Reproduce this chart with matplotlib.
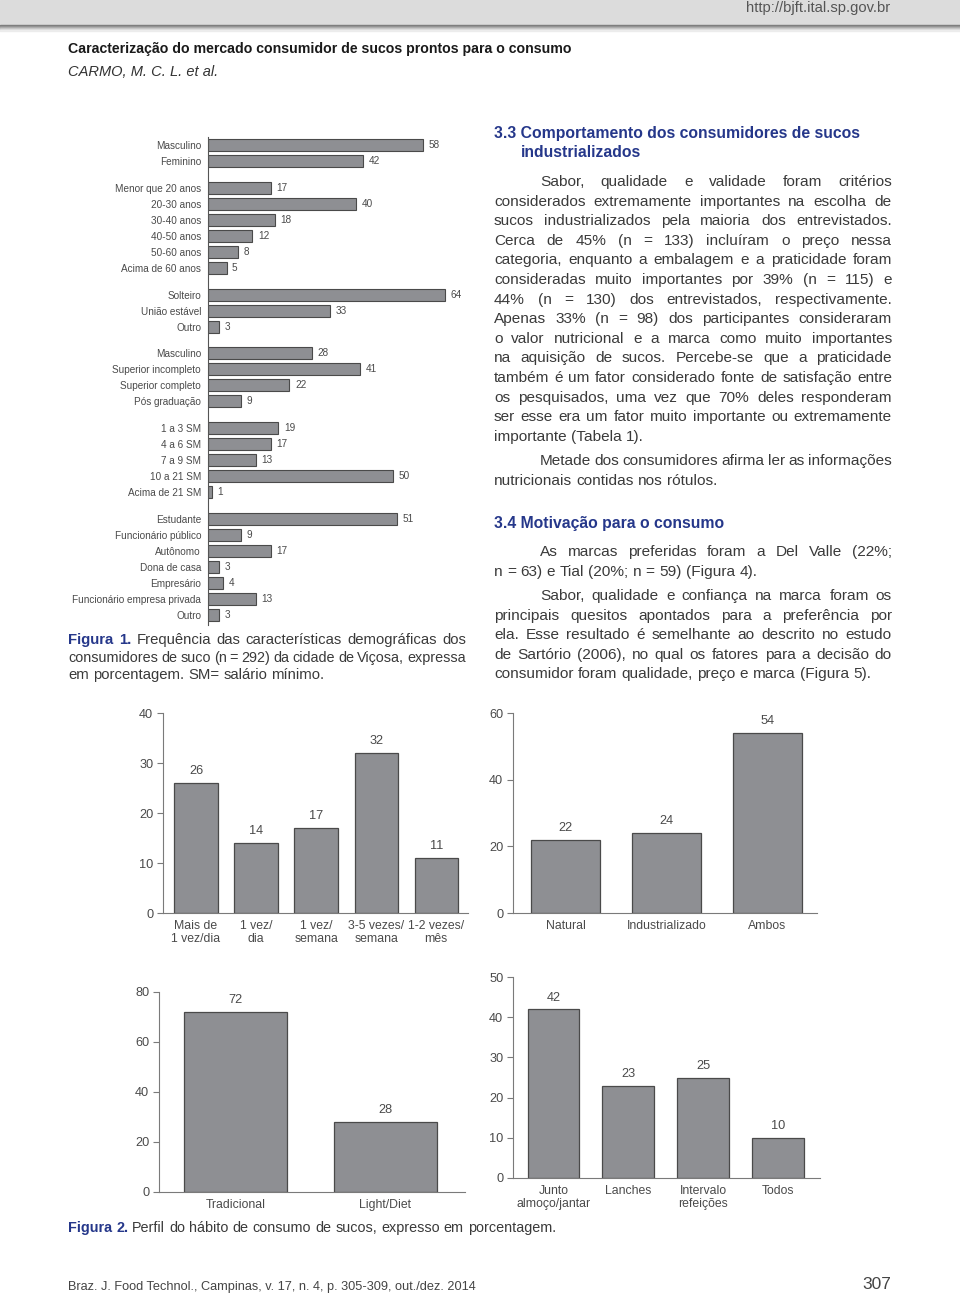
import matplotlib
matplotlib.use('Agg')
import matplotlib.pyplot as plt
from matplotlib import font_manager
from matplotlib.patches import Rectangle

W, H = 960, 1294

# --- Figura 1 data (demographics, %) ---
sex_labels = ['Masculino', 'Feminino']
sex_values = [58, 42]
age_labels = ['Menor que 20 anos', '20-30 anos', '30-40 anos', '40-50 anos',
              '50-60 anos', 'Acima de 60 anos']
age_values = [17, 40, 18, 12, 8, 5]
civil_labels = ['Solteiro', 'União estável', 'Outro']
civil_values = [64, 33, 3]
edu_labels = ['Masculino', 'Superior incompleto', 'Superior completo', 'Pós graduação']
edu_values = [28, 41, 22, 9]
income_labels = ['1 a 3 SM', '4 a 6 SM', '7 a 9 SM', '10 a 21 SM', 'Acima de 21 SM']
income_values = [19, 17, 13, 50, 1]
job_labels = ['Estudante', 'Funcionário público', 'Autônomo', 'Dona de casa',
              'Empresário', 'Funcionário empresa privada', 'Outro']
job_values = [51, 9, 17, 3, 4, 13, 3]

# --- Figura 2 data (%) ---
freq_labels = ['Mais de\n1 vez/dia', '1 vez/\ndia', '1 vez/\nsemana',
               '3-5 vezes/\nsemana', '1-2 vezes/\nmês']
freq_values = [26, 14, 17, 32, 11]
type_labels = ['Natural', 'Industrializado', 'Ambos']
type_values = [22, 24, 54]
diet_labels = ['Tradicional', 'Light/Diet']
diet_values = [72, 28]
moment_labels = ['Junto\nalmoço/jantar', 'Lanches', 'Intervalo\nrefeições', 'Todos']
moment_values = [42, 23, 25, 10]

BAR = '#8e8f93'
EDGE = '#4a4a4a'
SPINE = '#7a7a7a'
TXT = '#4a4a4a'
BODY = '#3a3a3a'
BLUE = '#25378a'

names = {f.name for f in font_manager.fontManager.ttflist}
SANS = 'Liberation Sans'
NARROW = 'Liberation Sans Narrow' if 'Liberation Sans Narrow' in names else SANS
plt.rcParams['font.family'] = [SANS, 'DejaVu Sans']

fig = plt.figure(figsize=(W / 100, H / 100), dpi=100)
renderer = fig.canvas.get_renderer()


def box(x0, y0, x1, y1):
    # pixel box (y from top) -> figure fraction rect
    return [x0 / W, 1 - y1 / H, (x1 - x0) / W, (y1 - y0) / H]


def draw_line(tokens, x0, x1, yb, justify=True, size=10):
    objs = [fig.text(x0 / W, 1 - yb / H, w, va='baseline', ha='left', **st)
            for w, st in tokens]
    widths = [o.get_window_extent(renderer).width for o in objs]
    n = len(objs)
    em = size * 100 / 72
    if justify and n > 1:
        min_gap = 0.22 * em
        if sum(widths) + (n - 1) * min_gap > x1 - x0:
            # squeeze the line a little so words never collide
            k = (x1 - x0 - (n - 1) * min_gap) / sum(widths)
            for o in objs:
                o.set_fontsize(o.get_fontsize() * k)
            widths = [o.get_window_extent(renderer).width for o in objs]
        gap = (x1 - x0 - sum(widths)) / (n - 1)
    else:
        gap = 0.28 * em
    x = x0
    for o, w in zip(objs, widths):
        o.set_x(x / W)
        x += w + gap


def words(s, **st):
    return [(w, st) for w in s.split()]


BODY_SIZE = 11.1


def paragraph(lines, x0, x1, y_first, step, indent=46, size=BODY_SIZE):
    st = dict(fontsize=size, color=BODY, family=SANS)
    for i, s in enumerate(lines):
        last = i == len(lines) - 1
        start = x0 + indent if i == 0 else x0
        draw_line(words(s, **st), start, x1, y_first + i * step,
                  justify=not last, size=size)


# --- page header ---
fig.patches.append(Rectangle((0, 1 - 25 / H), 1, 25 / H, transform=fig.transFigure,
                             color='#dcdcdc', zorder=0))
for i, c in enumerate(['#7a7a7a', '#8f8f8f', '#a8a8a8', '#c2c2c2', '#d9d9d9', '#ececec']):
    fig.patches.append(Rectangle((0, 1 - (26 + i) / H), 1, 1 / H,
                                 transform=fig.transFigure, color=c, zorder=0))
fig.text(890 / W, 1 - 12 / H, 'http://bjft.ital.sp.gov.br', ha='right', va='baseline',
         fontsize=10.6, color='#555555', family=NARROW)
fig.text(68 / W, 1 - 53 / H,
         'Caracterização do mercado consumidor de sucos prontos para o consumo',
         fontsize=10.2, fontweight='bold', color='#1a1a1a', family=NARROW, va='baseline')
fig.text(68 / W, 1 - 76 / H, 'CARMO, M. C. L. et al.', fontsize=10.5, style='italic',
         color='#333333', family=NARROW, va='baseline')

# --- Figura 1: horizontal bars ---
groups = [(sex_labels, sex_values), (age_labels, age_values),
          (civil_labels, civil_values), (edu_labels, edu_values),
          (income_labels, income_values), (job_labels, job_values)]
gap = 0.675
pos, labs, vals = [], [], []
y = 0.0
for gl, gv in groups:
    for l, v in zip(gl, gv):
        pos.append(y)
        labs.append(l)
        vals.append(v)
        y += 1
    y += gap
axh = fig.add_axes(box(208, 137, 467, 625))
axh.barh(pos, vals, height=0.75, color=BAR, edgecolor=EDGE, linewidth=0.8)
axh.set_xlim(0, 70)
axh.set_ylim(pos[-1] + 0.62, -0.5)
axh.set_yticks(pos)
axh.set_yticklabels(labs)
axh.set_xticks([])
axh.tick_params(axis='y', length=0, pad=5, labelsize=7.2, labelcolor=TXT)
for s in ['top', 'right', 'bottom']:
    axh.spines[s].set_visible(False)
axh.spines['left'].set_color('#555555')
axh.spines['left'].set_linewidth(0.8)
for p, v in zip(pos, vals):
    axh.annotate(str(v), (v, p), xytext=(4, 0), textcoords='offset points',
                 va='center', ha='left', fontsize=7.2, color=TXT)

CAP_SIZE = 10.7
cap = dict(fontsize=CAP_SIZE, color=BODY, family=SANS)
capb = dict(fontsize=CAP_SIZE, color=BLUE, family=SANS, fontweight='bold')
draw_line([('Figura', capb), ('1.', capb)] +
          words('Frequência das características demográficas dos', **cap),
          68, 466, 644, size=CAP_SIZE)
draw_line(words('consumidores de suco (n = 292) da cidade de Viçosa, expressa', **cap),
          68, 466, 662, size=CAP_SIZE)
draw_line(words('em porcentagem. SM= salário mínimo.', **cap), 68, 466, 679,
          justify=False, size=CAP_SIZE)

# --- right column text ---
head = dict(fontsize=11.3, color=BLUE, family=SANS, fontweight='bold')
fig.text(494 / W, 1 - 138 / H, '3.3 Comportamento dos consumidores de sucos',
         va='baseline', **head)
fig.text(521 / W, 1 - 157 / H, 'industrializados', va='baseline', **head)
paragraph([
    'Sabor, qualidade e validade foram critérios',
    'considerados extremamente importantes na escolha de',
    'sucos industrializados pela maioria dos entrevistados.',
    'Cerca de 45% (n = 133) incluíram o preço nessa',
    'categoria, enquanto a embalagem e a praticidade foram',
    'consideradas muito importantes por 39% (n = 115) e',
    '44% (n = 130) dos entrevistados, respectivamente.',
    'Apenas 33% (n = 98) dos participantes consideraram',
    'o valor nutricional e a marca como muito importantes',
    'na aquisição de sucos. Percebe-se que a praticidade',
    'também é um fator considerado fonte de satisfação entre',
    'os pesquisados, uma vez que 70% deles responderam',
    'ser esse era um fator muito importante ou extremamente',
    'importante (Tabela 1).'], 494, 892, 186, 19.6)
paragraph([
    'Metade dos consumidores afirma ler as informações',
    'nutricionais contidas nos rótulos.'], 494, 892, 465, 19.6)
fig.text(494 / W, 1 - 528 / H, '3.4 Motivação para o consumo', va='baseline', **head)
paragraph([
    'As marcas preferidas foram a Del Valle (22%;',
    'n = 63) e Tial (20%; n = 59) (Figura 4).'], 494, 892, 556, 19.6)
paragraph([
    'Sabor, qualidade e confiança na marca foram os',
    'principais quesitos apontados para a preferência por',
    'ela. Esse resultado é semelhante ao descrito no estudo',
    'de Sartório (2006), no qual os fatores para a decisão do',
    'consumidor foram qualidade, preço e marca (Figura 5).'], 494, 892, 600, 19.6)


# --- Figura 2: vertical bar panels ---
def bar_panel(rect, labels, values, ymax, step, xlim, width, pad):
    ax = fig.add_axes(box(*rect))
    xs = list(range(len(values)))
    ax.bar(xs, values, width=width, color=BAR, edgecolor=EDGE, linewidth=0.9)
    ax.set_ylim(0, ymax)
    ax.set_xlim(*xlim)
    ax.set_yticks(range(0, ymax + 1, step))
    ax.set_xticks(xs)
    ax.set_xticklabels(labels, linespacing=1.15)
    ax.tick_params(axis='x', length=0, pad=pad, labelsize=8.8, labelcolor=TXT)
    ax.tick_params(axis='y', length=4, width=0.8, color=SPINE, pad=3,
                   labelsize=9.2, labelcolor=TXT)
    for s in ['top', 'right']:
        ax.spines[s].set_visible(False)
    for s in ['left', 'bottom']:
        ax.spines[s].set_color(SPINE)
        ax.spines[s].set_linewidth(0.8)
    for x, v in zip(xs, values):
        ax.annotate(str(v), (x, v), xytext=(0, 4), textcoords='offset points',
                    ha='center', va='bottom', fontsize=9.2, color=TXT)
    return ax


bar_panel((163, 713, 468, 913), freq_labels, freq_values, 40, 10, (-0.55, 4.53), 0.72, 5)
bar_panel((513, 713, 817, 913), type_labels, type_values, 60, 20, (-0.52, 2.49), 0.69, 5)
bar_panel((159, 992, 465, 1192), diet_labels, diet_values, 80, 20, (-0.51, 1.53), 0.69, 5)
bar_panel((513, 977, 820, 1178), moment_labels, moment_values, 50, 10, (-0.54, 3.56), 0.69, 5)

cap2 = dict(fontsize=10.4, color=BODY, family=SANS)
capb2 = dict(fontsize=10.4, color=BLUE, family=SANS, fontweight='bold')
draw_line([('Figura', capb2), ('2.', capb2)] +
          words('Perfil do hábito de consumo de sucos, expresso em porcentagem.', **cap2),
          68, 900, 1232, justify=False, size=10.4)

# --- footer ---
fig.text(68 / W, 1 - 1290 / H,
         'Braz. J. Food Technol., Campinas, v. 17, n. 4, p. 305-309, out./dez. 2014',
         fontsize=9.2, color='#444444', family=NARROW, va='baseline')
fig.text(891 / W, 1 - 1289 / H, '307', fontsize=12.5, color='#444444', family=NARROW,
         ha='right', va='baseline')

fig.savefig('out.png', dpi=100)
